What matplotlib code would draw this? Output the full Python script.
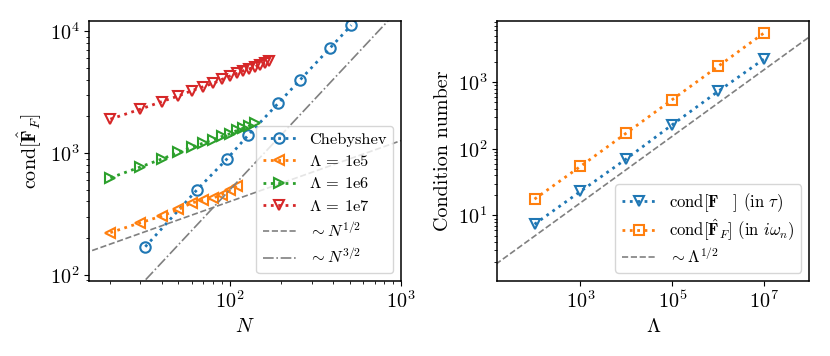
import numpy as np
import matplotlib
matplotlib.use("Agg")
import matplotlib.pyplot as plt
from matplotlib.ticker import NullLocator

plt.rcParams.update({
    "font.family": "serif",
    "font.serif": ["cmr10", "DejaVu Serif"],
    "mathtext.fontset": "cm",
    "axes.unicode_minus": False,
    "axes.formatter.use_mathtext": True,
    "font.size": 14.5,
})

# ---- left panel data ----
N_cheb = [32, 64, 96, 128, 192, 256, 384, 512]
cond_cheb = [170, 497, 893, 1406, 2570, 3960, 7260, 11200]

N_1e5 = [20, 30, 40, 50, 60, 70, 80, 90, 100, 110]
cond_1e5 = [222, 268, 304, 344, 390, 410, 428, 456, 494, 540]

N_1e6 = [20, 30, 40, 50, 60, 70, 80, 90, 100, 110, 120, 130, 140]
cond_1e6 = [625, 769, 893, 1011, 1120, 1207, 1285, 1368, 1439, 1531, 1601, 1672, 1758]

N_1e7 = [20, 30, 40, 50, 60, 70, 80, 90, 100, 110, 120, 130, 140, 150, 160, 170]
cond_1e7 = [1897, 2291, 2644, 2942, 3252, 3507, 3736, 4028, 4286, 4508, 4737,
            4918, 5106, 5300, 5443, 5649]

N_guide = [10, 2000]
coef_half = 40.0
coef_three_half = 0.5

# ---- right panel data ----
Lam = [1e2, 1e3, 1e4, 1e5, 1e6, 1e7]
cond_tau = [7.4, 23, 71, 231, 733, 2250]
cond_iw = [17.6, 54.6, 173, 550, 1741, 5530]
Lam_guide = [10, 2e8]
coef_lam = 0.49

fig = plt.figure(figsize=(8.3, 3.56), dpi=100)
ax1 = fig.add_axes([0.1072, 0.2107, 0.376, 0.730])
ax2 = fig.add_axes([0.599, 0.2107, 0.376, 0.730])

mk = dict(markerfacecolor="none", markersize=7.5, markeredgewidth=1.5, linewidth=2)

ax1.plot(N_cheb, cond_cheb, ":", marker="o", color="tab:blue", label="Chebyshev", **mk)
ax1.plot(N_1e5, cond_1e5, ":", marker="<", color="tab:orange", label=r"$\Lambda$ = 1e5", **mk)
ax1.plot(N_1e6, cond_1e6, ":", marker=">", color="tab:green", label=r"$\Lambda$ = 1e6", **mk)
ax1.plot(N_1e7, cond_1e7, ":", marker="v", color="tab:red", label=r"$\Lambda$ = 1e7", **mk)
Ng = np.array(N_guide, dtype=float)
ax1.plot(Ng, coef_half * Ng ** 0.5, "--", color="gray", linewidth=1.2, label=r"$\sim N^{1/2}$")
ax1.plot(Ng, coef_three_half * Ng ** 1.5, "-.", color="gray", linewidth=1.2, label=r"$\sim N^{3/2}$")
ax1.set_xscale("log")
ax1.set_yscale("log")
ax1.set_xlim(15, 1000)
ax1.set_ylim(89, 12100)
ax1.set_xlabel(r"$N$")
ax1.set_ylabel(r"cond$[\hat{\mathbf{F}}_F]$")
ax1.legend(loc="lower right", fontsize=11.8, labelspacing=0.45)

ax2.plot(Lam, cond_tau, ":", marker="v", color="tab:blue",
         label=r"cond$[\mathbf{F}\quad]$ (in $\tau$)", **mk)
ax2.plot(Lam, cond_iw, ":", marker="s", color="tab:orange",
         label=r"cond$[\hat{\mathbf{F}}_F]$ (in $i\omega_n$)", **mk)
Lg = np.array(Lam_guide, dtype=float)
ax2.plot(Lg, coef_lam * Lg ** 0.5, "--", color="gray", linewidth=1.2, label=r"$\sim \Lambda^{1/2}$")
ax2.set_xscale("log")
ax2.set_yscale("log")
ax2.set_xlim(15.4, 9.5e7)
ax2.set_ylim(1.04, 8260)
ax2.set_xticks([1e3, 1e5, 1e7])
ax2.xaxis.set_minor_locator(NullLocator())
ax2.set_xlabel(r"$\Lambda$")
ax2.set_ylabel("Condition number")
ax2.legend(loc="lower right", fontsize=12, labelspacing=0.22)

for ax in (ax1, ax2):
    for s in ax.spines.values():
        s.set_linewidth(1.1)

fig.savefig("out.png", dpi=100)
